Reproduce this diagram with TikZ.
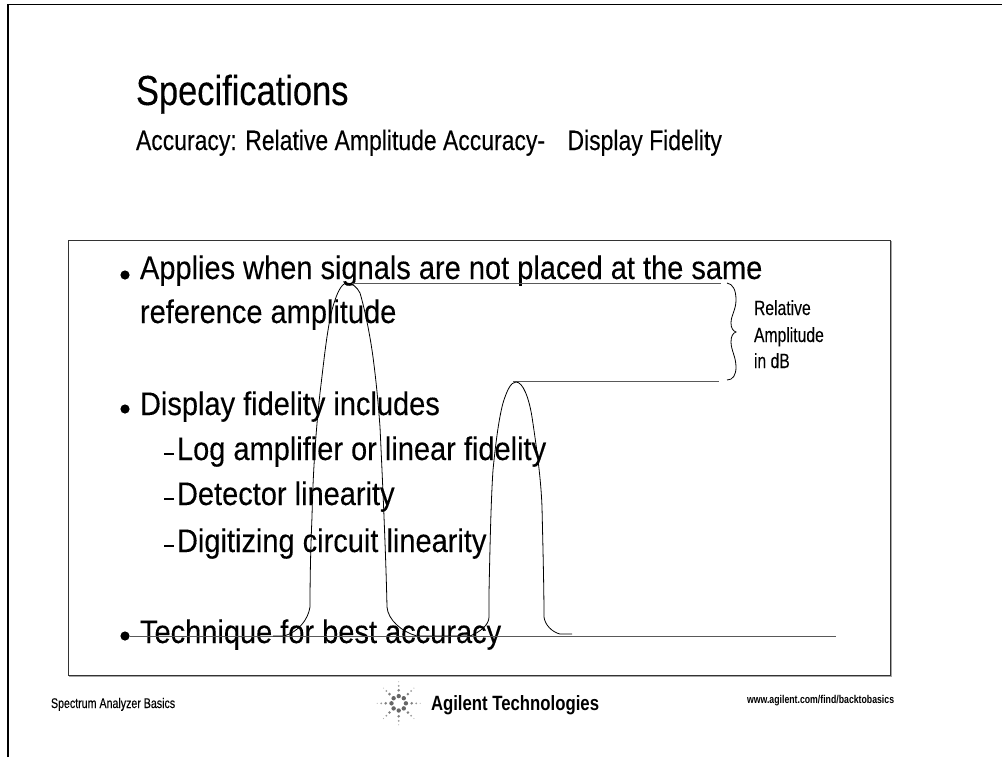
\documentclass[tikz,border=0pt]{standalone}
\usepackage{fontspec}
\setmainfont[FakeStretch=0.888,FakeBold=0.2]{Liberation Sans}
\newfontfamily\titlefont[FakeStretch=0.82,FakeBold=0.2]{Liberation Sans}
\newfontfamily\labelfont[FakeStretch=0.76,FakeBold=0.1]{Liberation Sans}
\newfontfamily\agilentfont[FakeStretch=0.81]{Liberation Sans Bold}
\newfontfamily\urlfont[FakeStretch=0.77]{Liberation Sans Bold}
\tikzset{
  px/.style={x=0.75pt,y=-0.75pt},
  txt/.style={anchor=base west,inner sep=0pt,outer sep=0pt},
  big/.style={txt,font=\fontsize{24.5pt}{26pt}\selectfont},
  small/.style={txt,font=\labelfont\fontsize{15.5pt}{17pt}\selectfont},
  wave/.style={draw=black,line width=0.6pt},
  levelline/.style={draw=black!65,line width=0.7pt},
  dot/.style={fill=black}
}
\begin{document}
\begin{tikzpicture}[px]
\useasboundingbox (0,0) rectangle (1002,757);
\draw[line width=1pt] (8,757) -- (8,4.7) -- (1002,4.7);
\draw[black!80,line width=0.75pt] (68,240) rectangle (890,675);
\draw[black!35,line width=0.6pt] (69,676.3) -- (891,676.3) -- (891,241);
\node[txt,font=\titlefont\fontsize{31.5pt}{33pt}\selectfont] (title) at (136,105) {Specifications};
\node[txt,font=\titlefont\fontsize{21pt}{23pt}\selectfont] (sub) at (136,150) {Accuracy: Relative Amplitude Accuracy-\hspace{12pt} Display Fidelity};
\foreach \y in {275,409,636}{
  \fill[dot] (125,\y) circle (4.6);
}
\node[big] (a1) at (140,279) {Applies when signals are not placed at the same};
\node[big] (a2) at (140,323) {reference amplitude};
\node[big] (c) at (140,415) {Display fidelity includes};
\node[big] (d1) at (177,460) {Log amplifier or linear fidelity};
\node[big] (d2) at (177,505) {Detector linearity};
\node[big] (d3) at (177,552) {Digitizing circuit linearity};
\node[big] (e) at (140,643) {Technique for best accuracy};
\foreach \y in {454,499,546}{
  \fill[black] (163.5,\y-0.7) rectangle (174,\y+0.7);
}
\draw[levelline] (130,636) -- (836,636);
\draw[levelline] (352,283) -- (721,283);
\draw[levelline] (513,381) -- (719,381);
\draw[wave] (273,636) -- (284,636) .. controls (298,632) and (308,620) .. (310,607)
  .. controls (310,570) and (311,540) .. (312,517)
  .. controls (313,470) and (316,430) .. (320,393)
  .. controls (324,360) and (327,330) .. (332,310)
  .. controls (336,295) and (341,283) .. (347,283)
  .. controls (352,283) and (357,287) .. (360,293)
  .. controls (365,310) and (370,335) .. (373,357)
  .. controls (376,380) and (378,400) .. (380,427)
  .. controls (383,490) and (386,560) .. (387,607)
  .. controls (388,620) and (402,632) .. (417,636)
  -- (470,636) .. controls (480,632) and (489,625) .. (489,617)
  -- (489,593) .. controls (490,545) and (491,500) .. (493,470)
  .. controls (496,440) and (499,418) .. (503,403)
  .. controls (507,390) and (511,382) .. (516,382)
  .. controls (523,382) and (529,398) .. (532,417)
  .. controls (537,450) and (541,480) .. (542,507)
  .. controls (543,550) and (544,590) .. (544,617)
  .. controls (545,625) and (552,632) .. (560,634)
  -- (572,634);
\draw[wave] (727,283) .. controls (733,284) and (736,290) .. (736,300)
  .. controls (736,310) and (731,315) .. (731,323)
  .. controls (731,328) and (733,331) .. (736,332)
  .. controls (733,333) and (731,336) .. (731,342)
  .. controls (731,350) and (736,357) .. (736,367)
  .. controls (736,375) and (733,380) .. (727,380);
\node[small] (r1) at (754,315) {Relative};
\node[small] (r2) at (754,342) {Amplitude};
\node[small] (r3) at (754,368) {in dB};
\node[txt,font=\labelfont\fontsize{10.5pt}{12pt}\selectfont] (f1) at (51,708) {Spectrum Analyzer Basics};
\node[txt,font=\agilentfont\fontsize{15.5pt}{17pt}\selectfont] (agilent) at (431,710) {Agilent Technologies};
\node[txt,font=\urlfont\fontsize{8.5pt}{10pt}\selectfont] (url) at (747,703) {www.agilent.com/find/backtobasics};
\foreach \a in {0,45,...,315}{
  \fill[black!60] (398.7,703.3) ++(\a:7.2) circle (2.2);
  \fill[black!50] (398.7,703.3) ++(\a:13) circle (1.4);
  \fill[black!40] (398.7,703.3) ++(\a:17.5) circle (1);
  \fill[black!30] (398.7,703.3) ++(\a:21.5) circle (0.6);
}
\end{tikzpicture}
\end{document}
